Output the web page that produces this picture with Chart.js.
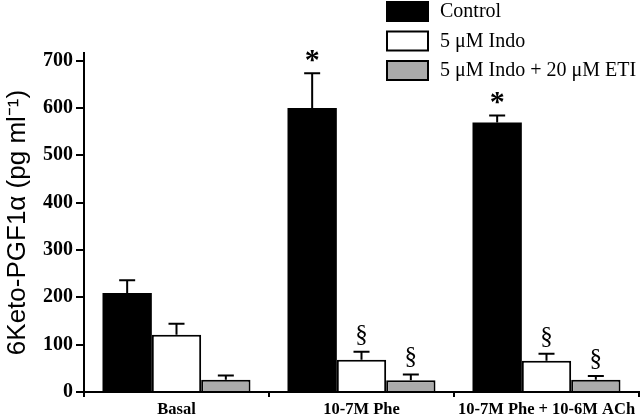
<!DOCTYPE html>
<html>
<head>
<meta charset="utf-8">
<script src="https://cdn.jsdelivr.net/npm/chart.js@4/dist/chart.umd.min.js"></script>
<style>
  html, body { margin: 0; padding: 0; background: #fff; }
  #wrap { width: 640px; height: 417px; }
</style>
</head>
<body>
<div id="wrap"><canvas id="barChart" width="640" height="417"></canvas></div>
<script>
// data
var categories = ["Basal", "10-7M Phe", "10-7M Phe + 10-6M ACh"];
var seriesNames = ["Control", "5 μM Indo", "5 μM Indo + 20 μM ETI"];
var controlValues = [209, 600, 569];
var controlErr = [27, 73, 15];
var indoValues = [121, 68, 66];
var indoErr = [23, 17, 15];
var etiValues = [26, 25, 26];
var etiErr = [9, 12, 8];
var controlMarks = ["", "*", "*"];
var indoMarks = ["", "§", "§"];
var etiMarks = ["", "§", "§"];
var yTicks = [0, 100, 200, 300, 400, 500, 600, 700];

var serif = "'Liberation Serif', 'Times New Roman', serif";
var grey = "#ababab";

var errs = [controlErr, indoErr, etiErr];
var marks = [controlMarks, indoMarks, etiMarks];

// error bars + significance marks, plus the short minor ticks
var errorBars = {
    id: 'errorBars',
    afterDatasetsDraw: function(chart) {
        var ctx = chart.ctx;
        var y = chart.scales.y;
        ctx.save();
        ctx.strokeStyle = '#000';
        ctx.fillStyle = '#000';
        ctx.lineWidth = 2;
        chart.data.datasets.forEach(function(ds, i) {
            var meta = chart.getDatasetMeta(i);
            meta.data.forEach(function(bar, j) {
                var top = y.getPixelForValue(ds.data[j] + errs[i][j]);
                ctx.beginPath();
                ctx.moveTo(bar.x, bar.y);
                ctx.lineTo(bar.x, top);
                ctx.moveTo(bar.x - 8, top);
                ctx.lineTo(bar.x + 8, top);
                ctx.stroke();
                var m = marks[i][j];
                if (m) {
                    ctx.textAlign = 'center';
                    ctx.textBaseline = 'alphabetic';
                    if (m === '*') {
                        ctx.font = 'bold 30px ' + serif;
                        ctx.fillText(m, bar.x, top - 4);
                    } else {
                        ctx.font = '25px ' + serif;
                        ctx.fillText(m, bar.x, top - 10);
                    }
                }
            });
        });
        // minor ticks
        ctx.beginPath();
        y.ticks.forEach(function(t) {
            if (yTicks.indexOf(t.value) < 0) {
                var py = y.getPixelForValue(t.value);
                ctx.moveTo(y.right - 5, py);
                ctx.lineTo(y.right, py);
            }
        });
        ctx.stroke();
        ctx.restore();
    }
};

// legend box, top right
var boxLegend = {
    id: 'boxLegend',
    afterDraw: function(chart) {
        var ctx = chart.ctx;
        var fills = ['#000', '#fff', grey];
        ctx.save();
        ctx.font = '20px ' + serif;
        ctx.textBaseline = 'middle';
        ctx.textAlign = 'left';
        for (var i = 0; i < seriesNames.length; i++) {
            var top = 1 + i * 29.5;
            ctx.fillStyle = fills[i];
            ctx.fillRect(386, top, 43, 21);
            ctx.strokeStyle = '#000';
            ctx.lineWidth = 2;
            ctx.strokeRect(387, top + 1, 41, 19);
            ctx.fillStyle = '#000';
            ctx.fillText(seriesNames[i], 440, top + 11);
        }
        ctx.restore();
    }
};

var ctx = document.getElementById("barChart").getContext('2d');
var myBarChart = new Chart(ctx, {
    type: 'bar',
    data: {
        labels: categories,
        datasets: [
            {
                label: seriesNames[0],
                data: controlValues,
                backgroundColor: '#000',
                borderWidth: 0
            },
            {
                label: seriesNames[1],
                data: indoValues,
                backgroundColor: '#fff',
                borderColor: '#000',
                borderWidth: 2
            },
            {
                label: seriesNames[2],
                data: etiValues,
                backgroundColor: grey,
                borderColor: '#000',
                borderWidth: 2
            }
        ]
    },
    options: {
        responsive: false,
        animation: false,
        layout: { padding: { top: 53, right: 1, left: 0, bottom: 0 } },
        datasets: { bar: { categoryPercentage: 0.8, barPercentage: 1.0 } },
        plugins: {
            legend: { display: false },
            tooltip: { enabled: false }
        },
        scales: {
            x: {
                afterFit: function(scale) { scale.height = 25; },
                grid: { offset: true, drawOnChartArea: false, tickLength: 5, color: '#000', lineWidth: 2 },
                border: { color: '#000', width: 2 },
                ticks: {
                    color: '#000',
                    padding: 3,
                    font: { family: serif, size: 16.5, weight: 'bold' },
                    maxRotation: 0,
                    autoSkip: false
                }
            },
            y: {
                min: 0,
                max: 716,
                afterFit: function(scale) { scale.width = 84; },
                afterBuildTicks: function(scale) {
                    var t = [];
                    for (var v = 0; v <= yTicks[yTicks.length - 1]; v += 50) t.push({ value: v });
                    scale.ticks = t;
                },
                grid: {
                    drawOnChartArea: false,
                    tickLength: 8,
                    color: '#000',
                    lineWidth: 2,
                    tickColor: function(c) {
                        return c.tick && yTicks.indexOf(c.tick.value) >= 0 ? '#000' : 'rgba(0,0,0,0)';
                    }
                },
                border: { color: '#000', width: 2 },
                ticks: {
                    color: '#000',
                    padding: 3,
                    font: { family: serif, size: 20, weight: 'bold' },
                    callback: function(v) { return yTicks.indexOf(v) >= 0 ? v : ''; }
                },
                title: {
                    display: true,
                    text: '6Keto-PGF1α (pg ml⁻¹)',
                    color: '#000',
                    padding: { top: 2, bottom: 0 },
                    font: { family: "'Liberation Sans', Arial, sans-serif", size: 26 }
                }
            }
        }
    },
    plugins: [errorBars, boxLegend]
});
</script>
</body>
</html>
